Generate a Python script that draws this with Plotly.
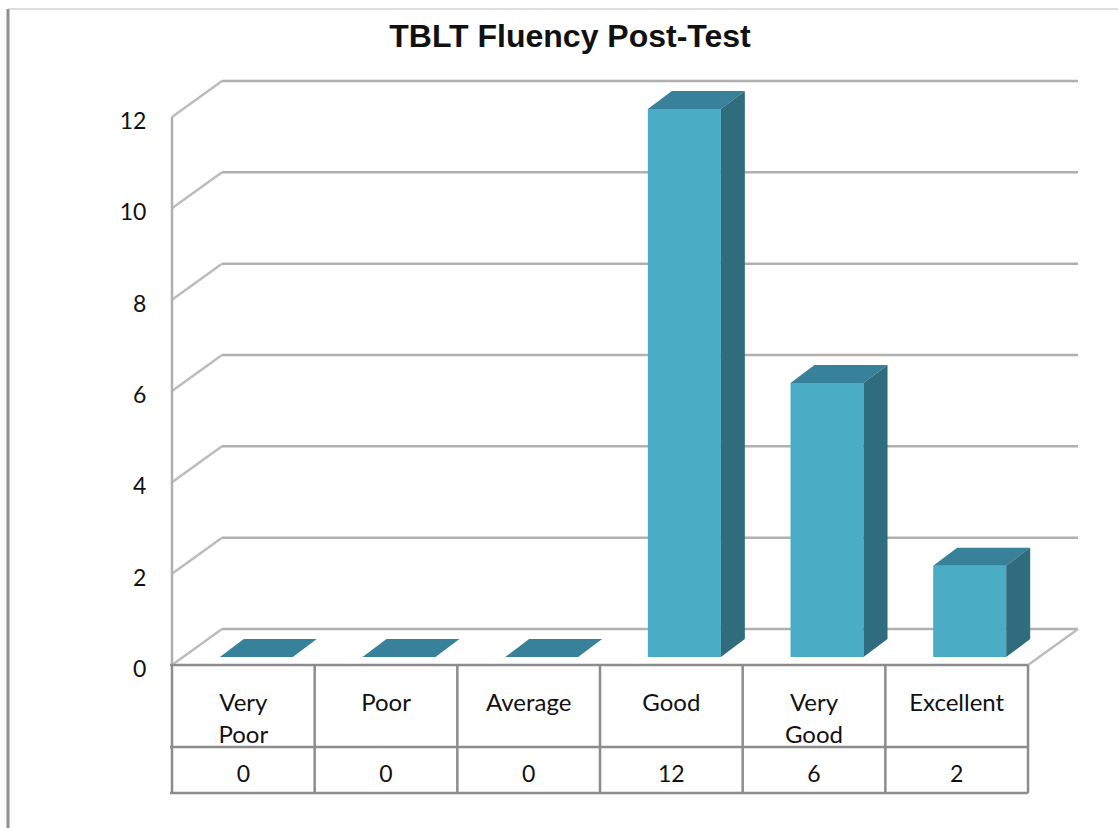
import plotly.graph_objects as go

categories_top = ["Very", "Poor", "Average", "Good", "Very", "Excellent"]
categories_bottom = ["Poor", "", "", "", "Good", ""]
values = [0, 0, 0, 12, 6, 2]
tick_values = [0, 2, 4, 6, 8, 10, 12]

GRID = "#b0b0b0"
TABLE = "#8c8c8c"
FRONT = "#4bacc6"
TOP = "#37829a"
SIDE = "#2f6c7e"
TEXT_FONT = dict(family="Lato", size=24, color="#111111")
DIGIT_FONT = dict(family="Lato", size=23, color="#111111")

# picture geometry: front left floor corner, size of one category and one unit
X0, Y0 = 172, 665
CAT_W = 142.67
UNIT_H = 45.67


def to_x(px):
    return (px - X0) / CAT_W


def to_y(px):
    return (Y0 - px) / UNIT_H


dx_wall = 50 / CAT_W
dy_wall = 36 / UNIT_H
dx_bar = 24 / CAT_W
dy_bar = 18 / UNIT_H
bar_w = 73 / CAT_W
bar_shift = 13 / CAT_W
bar_base = 8 / UNIT_H

n = len(values)
centers = [i + 0.5 for i in range(n)]
lefts = [c + bar_shift - bar_w / 2 for c in centers]
rights = [c + bar_shift + bar_w / 2 for c in centers]

top_x, top_y, side_x, side_y = [], [], [], []
for l, r, v in zip(lefts, rights, values):
    t = v + bar_base
    top_x += [l, r, r + dx_bar, l + dx_bar, l, None]
    top_y += [t, t, t + dy_bar, t + dy_bar, t, None]
    if v > 0:
        side_x += [r, r + dx_bar, r + dx_bar, r, r, None]
        side_y += [bar_base, bar_base + dy_bar, t + dy_bar, t, bar_base, None]

fig = go.Figure()
fig.add_trace(go.Bar(x=[c + bar_shift for c in centers], y=values, base=bar_base,
                     width=bar_w, marker_color=FRONT, marker_line_width=0))
fig.add_trace(go.Scatter(x=top_x, y=top_y, mode="lines", fill="toself", fillcolor=TOP,
                         line=dict(width=0, color=TOP)))
fig.add_trace(go.Scatter(x=side_x, y=side_y, mode="lines", fill="toself", fillcolor=SIDE,
                         line=dict(width=0, color=SIDE)))

# table text
fig.add_trace(go.Scatter(x=centers, y=[to_y(705)] * n, mode="text", text=categories_top,
                         textfont=TEXT_FONT, textposition="middle center"))
fig.add_trace(go.Scatter(x=centers, y=[to_y(737)] * n, mode="text", text=categories_bottom,
                         textfont=TEXT_FONT, textposition="middle center"))
fig.add_trace(go.Scatter(x=centers, y=[to_y(776)] * n, mode="text", text=[str(v) for v in values],
                         textfont=DIGIT_FONT, textposition="middle center"))

shapes = []


def add_line(x0, y0, x1, y1, color=GRID, width=2.5):
    shapes.append(dict(type="line", xref="x", yref="y", x0=x0, y0=y0, x1=x1, y1=y1,
                       layer="below", line=dict(color=color, width=width)))


# walls
for t in tick_values:
    add_line(0, t, dx_wall, t + dy_wall, color="#bcbcbc")
    add_line(dx_wall, t + dy_wall, n + dx_wall, t + dy_wall)
add_line(0, 0, 0, 12)
add_line(n, 0, n + dx_wall, dy_wall, color="#bcbcbc")

# data table
for i in range(n + 1):
    add_line(i, 0, i, to_y(793), color=TABLE)
add_line(to_x(170), 0, n, 0, color=TABLE)
add_line(to_x(170), to_y(747), n, to_y(747), color=TABLE)
add_line(to_x(170), to_y(793), n, to_y(793), color=TABLE)

# chart frame
add_line(to_x(8), to_y(9), to_x(8), to_y(828), color="#8f8f8f", width=3)
add_line(to_x(8), to_y(9), to_x(1118), to_y(9), color="#bdbdbd", width=1)

fig.update_layout(
    width=1118,
    height=828,
    margin=dict(l=0, r=0, t=0, b=0),
    paper_bgcolor="white",
    plot_bgcolor="white",
    showlegend=False,
    shapes=shapes,
    title=dict(text="<b>TBLT Fluency Post-Test</b>", x=570 / 1118, xanchor="center",
               y=1 - 36 / 828, yanchor="middle",
               font=dict(family="Liberation Sans", size=32, color="#111111")),
    xaxis=dict(range=[to_x(0), to_x(1118)], domain=[0, 1], visible=False),
    yaxis=dict(range=[to_y(828), to_y(0)], domain=[0, 1], anchor="free", position=X0 / 1118,
               tickmode="array", tickvals=[t - 4 / UNIT_H for t in tick_values],
               ticktext=[str(t) for t in tick_values],
               ticks="outside", ticklen=21, tickcolor="rgba(0,0,0,0)",
               showgrid=False, zeroline=False, showline=False, tickfont=DIGIT_FONT),
)

fig.write_html("out.html", config=dict(displayModeBar=False),
               post_script="document.body.style.margin='0';")
